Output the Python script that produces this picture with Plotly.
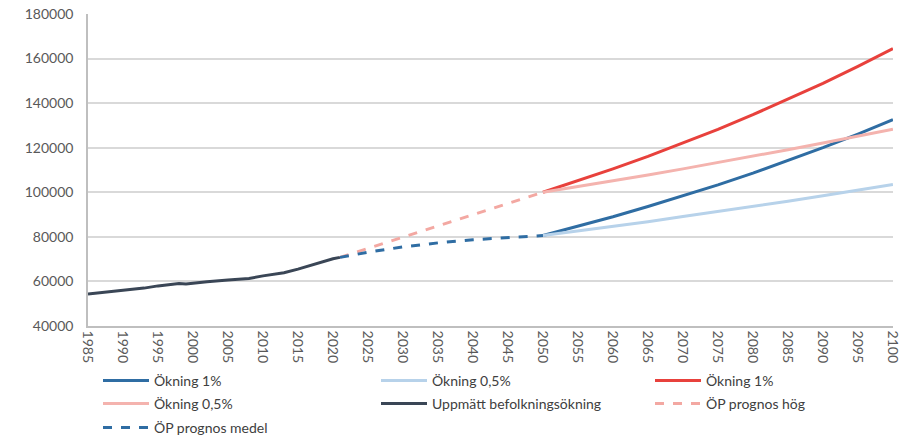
import plotly.graph_objects as go

# Measured population
years_measured = [1985, 1987, 1990, 1993, 1995, 1997, 1998, 1999, 2000, 2002, 2005, 2008, 2010, 2012, 2013, 2015, 2017, 2019, 2020, 2021]
pop_measured = [54300, 55000, 55900, 57000, 58000, 58800, 59100, 58800, 59200, 59900, 60600, 61300, 62500, 63300, 63900, 65500, 67500, 69300, 70200, 70800]

# ÖP prognoses 2021-2050
years_op = [2021, 2025, 2030, 2035, 2040, 2045, 2050]
op_hog = [70800, 74800, 79900, 84900, 89900, 95000, 100000]
op_medel = [70800, 73100, 75500, 77300, 78700, 79700, 80600]

# Growth scenarios 2050-2100
years_future = [2050, 2055, 2060, 2065, 2070, 2075, 2080, 2085, 2090, 2095, 2100]
hog_1 = [100000, 105100, 110500, 116100, 122000, 128200, 134800, 141700, 148900, 156500, 164500]
hog_05 = [100000, 102500, 105100, 107800, 110500, 113300, 116100, 119100, 122100, 125200, 128300]
medel_1 = [80600, 84700, 89000, 93600, 98300, 103300, 108600, 114200, 120000, 126100, 132600]
medel_05 = [80600, 82600, 84700, 86800, 89100, 91300, 93600, 96000, 98400, 100900, 103500]

x_ticks = list(range(1985, 2101, 5))
y_ticks = list(range(40000, 180001, 20000))

BLUE = "#2F6DA3"
LIGHT_BLUE = "#B7D2EA"
RED = "#E8413C"
PINK = "#F4B3AE"
DARK = "#3A4656"
PINK_DASH = "#F3A8A2"

series = [
    ("Ökning 1%", years_future, medel_1, BLUE, "solid"),
    ("Ökning 0,5%", years_future, medel_05, LIGHT_BLUE, "solid"),
    ("Ökning 1%", years_future, hog_1, RED, "solid"),
    ("Ökning 0,5%", years_future, hog_05, PINK, "solid"),
    ("Uppmätt befolkningsökning", years_measured, pop_measured, DARK, "solid"),
    ("ÖP prognos hög", years_op, op_hog, PINK_DASH, "dash"),
    ("ÖP prognos medel", years_op, op_medel, BLUE, "dash"),
]

# legend placement (text start x, row centre y) in pixels
legend_text_x = [155, 433, 707]
legend_row_y = [381, 404, 428]

fig = go.Figure()
layout_legends = {}
for i, (name, xs, ys, color, dash) in enumerate(series):
    lid = "legend" if i == 0 else f"legend{i + 1}"
    fig.add_trace(go.Scatter(x=xs, y=ys, mode="lines", name=name, legend=lid,
                             line=dict(color=color, width=3, dash=dash)))
    col, row = i % 3, i // 3
    layout_legends[lid] = dict(
        orientation="v", xref="container", yref="container",
        x=(legend_text_x[col] - 57) / 902, xanchor="left",
        y=1 - legend_row_y[row] / 438, yanchor="middle",
        itemwidth=46, borderwidth=0, bgcolor="rgba(0,0,0,0)",
        font=dict(size=14, color="#404040"),
    )

fig.update_layout(
    width=902, height=438,
    margin=dict(l=88, r=9, t=14, b=112, autoexpand=False),
    paper_bgcolor="white", plot_bgcolor="white",
    font=dict(family="Lato, Open Sans, sans-serif", size=13, color="#595959"),
    showlegend=True,
    **layout_legends,
)
fig.update_xaxes(range=[1985, 2100.01], tickvals=x_ticks, ticktext=[str(v) for v in x_ticks],
                 tickangle=90, showgrid=False, showline=True, linecolor="#BFBFBF", linewidth=1.5,
                 ticks="", tickfont=dict(size=14, color="#595959"), zeroline=False, automargin=False,
                 ticklabeloverflow="allow")
fig.update_yaxes(range=[40000, 180000], tickvals=y_ticks, ticktext=[str(v) for v in y_ticks],
                 showgrid=True, gridcolor="#D9D9D9", gridwidth=1.5, showline=True, linecolor="#BFBFBF",
                 linewidth=1.5, ticks="", ticklabelstandoff=10, tickfont=dict(size=14, color="#595959"),
                 zeroline=False, automargin=False)

fig.write_html("out.html", config={"displayModeBar": False},
               post_script="document.body.style.margin='0';")
